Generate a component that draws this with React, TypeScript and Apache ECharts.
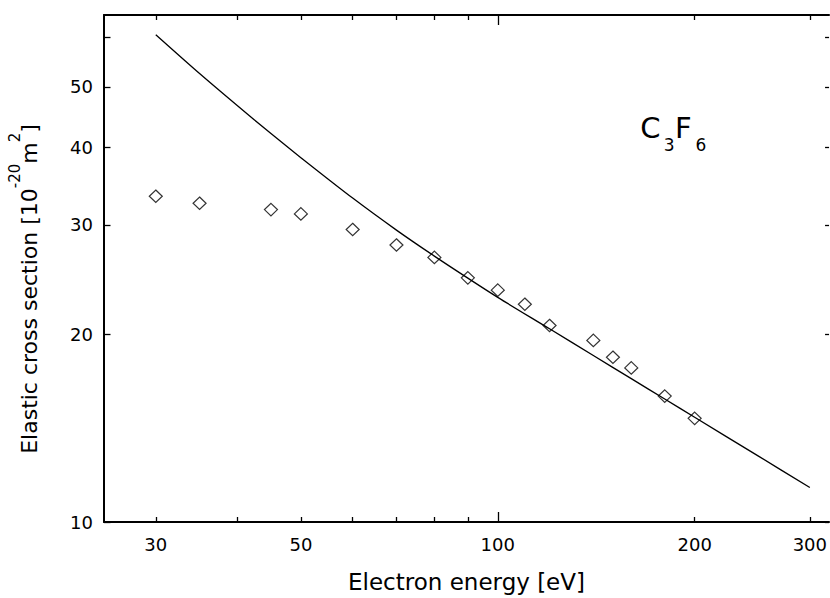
import React, { useEffect, useRef } from 'react';
import * as echarts from 'echarts';

// Theory curve (eV, 10^-20 m^2)
const energyTheory = [30, 35, 40, 45, 50, 60, 70, 80, 90, 100, 120, 140, 160, 180, 200, 250, 300];
const sigmaTheory = [60.6, 52.5, 46.6, 42.05, 38.47, 33.13, 29.43, 26.73, 24.64, 22.95, 20.43, 18.51, 16.99, 15.76, 14.73, 12.77, 11.36];
// Measured points
const energyExp = [30, 35, 45, 50, 60, 70, 80, 90, 100, 110, 120, 140, 150, 160, 180, 200];
const sigmaExp = [33.35, 32.5, 31.75, 31.25, 29.5, 27.85, 26.6, 24.67, 23.57, 22.37, 20.68, 19.57, 18.39, 17.68, 15.93, 14.67];
// Axes
const xMinorTicks = [30, 40, 50, 60, 70, 80, 90, 200, 300];
const xMajorTicks = [100];
const xLabels = [30, 50, 100, 200, 300];
const yTicks = [10, 20, 30, 40, 50, 60];
const yLabels = [10, 20, 30, 40, 50];
const xRange = [25, 321];
const yRange = [10, 65.2];

const FONT = 'DejaVu Sans';
const lg = (v: number) => Math.log10(v);
const fmt = (v: number) => String(Math.round(Math.pow(10, v)));

export default function App() {
  const ref = useRef<HTMLDivElement>(null);
  useEffect(() => {
    document.body.style.margin = '0';
    const chart = echarts.init(ref.current!, null, { renderer: 'svg' });
    const axisLine = { show: true, onZero: false, lineStyle: { color: '#000', width: 2 } };
    const xBase = {
      type: 'value' as const,
      min: lg(xRange[0]),
      max: lg(xRange[1]),
      splitLine: { show: false },
    };
    const yBase = {
      type: 'value' as const,
      min: lg(yRange[0]),
      max: lg(yRange[1]),
      splitLine: { show: false },
    };
    chart.setOption({
      animation: false,
      textStyle: { fontFamily: FONT, color: '#000' },
      grid: { left: 104, right: 0, top: 15, bottom: 73, containLabel: false },
      xAxis: [
        {
          ...xBase,
          position: 'bottom',
          axisLine,
          axisTick: { show: true, inside: true, length: 5, customValues: xMinorTicks.map(lg), lineStyle: { color: '#000', width: 1.3 } },
          axisLabel: { show: true, customValues: xLabels.map(lg), formatter: fmt, margin: 13, fontSize: 18, color: '#000', fontFamily: FONT },
          name: 'Electron energy [eV]',
          nameLocation: 'middle',
          nameGap: 48,
          nameTextStyle: { fontSize: 23, color: '#000', fontFamily: FONT },
        },
        {
          ...xBase,
          position: 'top',
          axisLine,
          axisTick: { show: true, inside: true, length: 5, customValues: xMinorTicks.map(lg), lineStyle: { color: '#000', width: 1.3 } },
          axisLabel: { show: false },
        },
        {
          ...xBase,
          position: 'bottom',
          axisLine: { show: false, onZero: false },
          axisTick: { show: true, inside: true, length: 10, customValues: xMajorTicks.map(lg), lineStyle: { color: '#000', width: 1.3 } },
          axisLabel: { show: false },
        },
        {
          ...xBase,
          position: 'top',
          axisLine: { show: false, onZero: false },
          axisTick: { show: true, inside: true, length: 10, customValues: xMajorTicks.map(lg), lineStyle: { color: '#000', width: 1.3 } },
          axisLabel: { show: false },
        },
      ],
      yAxis: [
        {
          ...yBase,
          position: 'left',
          axisLine,
          axisTick: { show: true, inside: true, length: 6.5, customValues: yTicks.map(lg), lineStyle: { color: '#000', width: 1.3 } },
          axisLabel: { show: true, customValues: yLabels.map(lg), formatter: fmt, margin: 11, fontSize: 18, color: '#000', fontFamily: FONT },
        },
        {
          ...yBase,
          position: 'right',
          axisLine: { show: false, onZero: false },
          axisTick: { show: true, inside: true, length: 4, customValues: yTicks.map(lg), lineStyle: { color: '#000', width: 1.3 } },
          axisLabel: { show: false },
        },
      ],
      series: [
        {
          type: 'line',
          xAxisIndex: 0,
          yAxisIndex: 0,
          data: energyTheory.map((e, i) => [lg(e), lg(sigmaTheory[i])]),
          showSymbol: false,
          symbol: 'none',
          smooth: 0.3,
          lineStyle: { color: '#000', width: 1.3 },
          z: 2,
        },
        {
          type: 'scatter',
          xAxisIndex: 0,
          yAxisIndex: 0,
          data: energyExp.map((e, i) => [lg(e), lg(sigmaExp[i])]),
          symbol: 'diamond',
          symbolSize: [13, 12.5],
          itemStyle: { color: 'rgba(0,0,0,0)', borderColor: '#000', borderWidth: 1.2 },
          z: 3,
        },
      ],
      graphic: [
        {
          type: 'text',
          x: 29,
          y: 289,
          rotation: Math.PI / 2,
          style: {
            text: 'Elastic cross section [10{sup|-20}m{sup|2}]',
            fontSize: 22,
            fontFamily: FONT,
            fill: '#000',
            align: 'center',
            verticalAlign: 'middle',
            lineHeight: 44,
            rich: {
              sup: { fontSize: 15, lineHeight: 15, verticalAlign: 'top', fontFamily: FONT, fill: '#000' },
            },
          },
        },
        { type: 'text', x: 640.2, y: 127.5, style: { text: 'C', fontSize: 29, fontFamily: FONT, fill: '#000', align: 'left', verticalAlign: 'middle' } },
        { type: 'text', x: 663.8, y: 145.3, style: { text: '3', fontSize: 17, fontFamily: FONT, fill: '#000', align: 'left', verticalAlign: 'middle' } },
        { type: 'text', x: 675, y: 127.5, style: { text: 'F', fontSize: 29, fontFamily: FONT, fill: '#000', align: 'left', verticalAlign: 'middle' } },
        { type: 'text', x: 695.5, y: 145.3, style: { text: '6', fontSize: 17, fontFamily: FONT, fill: '#000', align: 'left', verticalAlign: 'middle' } },
      ],
    });
    return () => chart.dispose();
  }, []);
  return <div ref={ref} style={{ position: 'absolute', left: 0, top: 0, width: 830, height: 598 }} />;
}
